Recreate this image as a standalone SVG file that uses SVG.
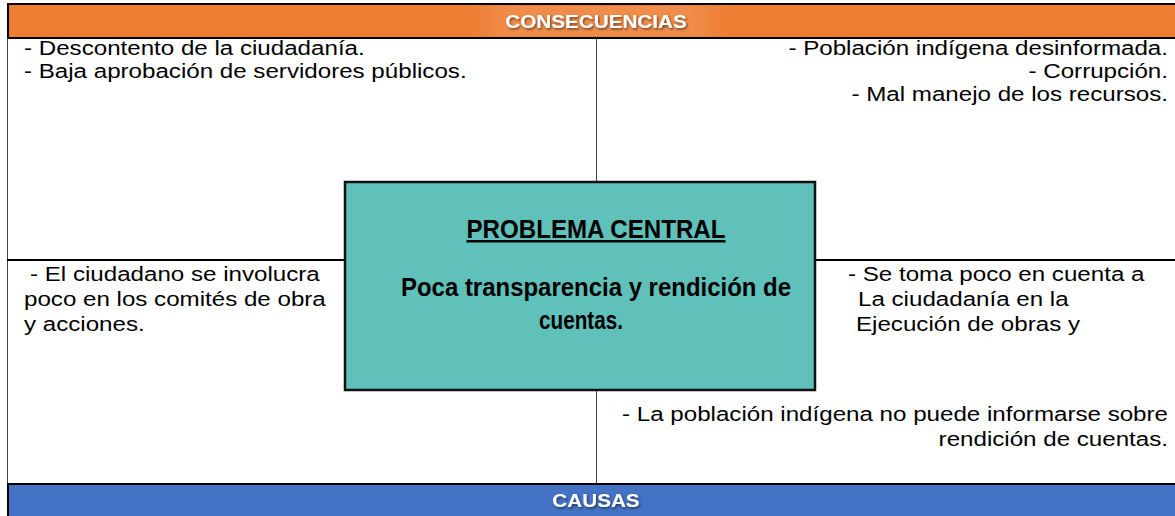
<svg xmlns="http://www.w3.org/2000/svg" width="1175" height="516" viewBox="0 0 1175 516">
  <defs>
    <filter id="shadow" x="-10%" y="-30%" width="120%" height="160%">
      <feDropShadow dx="1" dy="1.5" stdDeviation="1" flood-color="#000" flood-opacity="0.55"/>
    </filter>
    <linearGradient id="glowO" x1="0" y1="0" x2="1" y2="0">
      <stop offset="0" stop-color="#ffffff" stop-opacity="0"/>
      <stop offset="0.15" stop-color="#ffffff" stop-opacity="0.12"/>
      <stop offset="0.85" stop-color="#ffffff" stop-opacity="0.12"/>
      <stop offset="1" stop-color="#ffffff" stop-opacity="0"/>
    </linearGradient>
  </defs>
  <style>
    .body { font-family: "Liberation Sans", Arial, sans-serif; font-size: 21px; fill: #000; }
    .r { text-anchor: end; }
    .hdr { font-family: "Liberation Sans", Arial, sans-serif; font-size: 18px; font-weight: bold; fill: #fff; text-anchor: middle; }
    .ctr { font-family: "Liberation Sans", Arial, sans-serif; font-size: 25px; font-weight: bold; fill: #000; text-anchor: middle; }
    .line { stroke: #000; stroke-width: 2; fill: none; }
    .thin { stroke: #444; stroke-width: 1; fill: none; }
  </style>
  <rect width="1175" height="516" fill="#fff"/>

  <g id="header-consecuencias">
    <rect x="7" y="4" width="1170" height="34" fill="#ED7D31"/>
    <rect x="470" y="6" width="260" height="30" fill="url(#glowO)"/>
    <line class="line" x1="7" y1="4" x2="1175" y2="4" stroke-width="2.5"/>
    <line class="line" x1="7" y1="38" x2="1175" y2="38"/>
    <line class="line" x1="8" y1="4" x2="8" y2="38"/>
    <text class="hdr" transform="translate(596 28) scale(1.15 1)" filter="url(#shadow)">CONSECUENCIAS</text>
  </g>

  <g id="connectors">
    <line class="thin" x1="7.5" y1="38" x2="7.5" y2="484"/>
    <line class="thin" x1="596.5" y1="38" x2="596.5" y2="182"/>
    <line class="thin" x1="596.5" y1="390" x2="596.5" y2="484"/>
    <line class="line" x1="7" y1="260" x2="345" y2="260"/>
    <line class="line" x1="815" y1="260" x2="1175" y2="260"/>
  </g>

  <g id="consecuencias-izq">
    <text class="body" transform="translate(24 55) scale(1.15 1)">- Descontento de la ciudadanía.</text>
    <text class="body" transform="translate(24 78) scale(1.15 1)">- Baja aprobación de servidores públicos.</text>
  </g>

  <g id="consecuencias-der">
    <text class="body r" transform="translate(1168 55) scale(1.15 1)">- Población indígena desinformada.</text>
    <text class="body r" transform="translate(1168 78) scale(1.15 1)">- Corrupción.</text>
    <text class="body r" transform="translate(1168 101) scale(1.15 1)">- Mal manejo de los recursos.</text>
  </g>

  <g id="causa-izq">
    <text class="body" transform="translate(30 281) scale(1.15 1)">- El ciudadano se involucra</text>
    <text class="body" transform="translate(24 306) scale(1.15 1)">poco en los comités de obra</text>
    <text class="body" transform="translate(24 331) scale(1.15 1)">y acciones.</text>
  </g>

  <g id="causa-der">
    <text class="body" transform="translate(848 281) scale(1.15 1)">- Se toma poco en cuenta a</text>
    <text class="body" transform="translate(858 306) scale(1.15 1)">La ciudadanía en la</text>
    <text class="body" transform="translate(856 331) scale(1.15 1)">Ejecución de obras y</text>
  </g>

  <g id="causa-abajo-der">
    <text class="body r" transform="translate(1168 421) scale(1.15 1)">- La población indígena no puede informarse sobre</text>
    <text class="body r" transform="translate(1168 446) scale(1.15 1)">rendición de cuentas.</text>
  </g>

  <g id="problema-central">
    <rect x="345" y="182" width="470" height="208" fill="#5FC1BA" stroke="#111" stroke-width="2.5"/>
    <text class="ctr" x="596" y="238" text-decoration="underline" textLength="259" lengthAdjust="spacingAndGlyphs">PROBLEMA CENTRAL</text>
    <text class="ctr" x="596" y="296" textLength="390" lengthAdjust="spacingAndGlyphs">Poca transparencia y rendición de</text>
    <text class="ctr" x="581" y="329" textLength="84" lengthAdjust="spacingAndGlyphs">cuentas.</text>
  </g>

  <g id="footer-causas">
    <rect x="7" y="484" width="1170" height="32" fill="#4472C4"/>
    <line class="line" x1="7" y1="484" x2="1175" y2="484"/>
    <line class="line" x1="8" y1="484" x2="8" y2="516" stroke-width="3"/>
    <text class="hdr" transform="translate(596 507) scale(1.15 1)" filter="url(#shadow)">CAUSAS</text>
  </g>
</svg>
